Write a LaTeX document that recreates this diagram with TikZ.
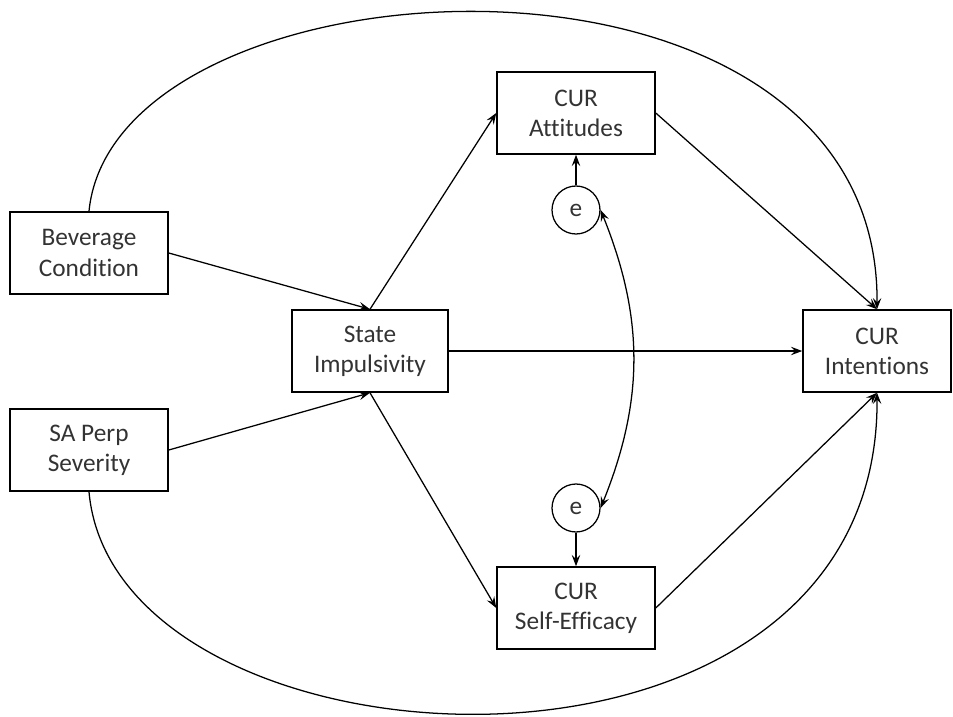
\documentclass[tikz,border=0pt]{standalone}
\usepackage{fontspec}
\setmainfont{Carlito}[Ligatures={NoCommon}]
\usepackage{tikz}
\usetikzlibrary{shapes.geometric, arrows.meta}
\tikzstyle{factor} = [rectangle, minimum width=3.95cm, minimum height=2.05cm, text centered, align=center, draw=black, line width=1.1pt, text=black!80, font=\fontsize{18}{21.5}\selectfont]
\tikzstyle{resid} = [circle, minimum size=1.2cm, inner sep=0pt, draw=black, line width=0.9pt, text=black!80, font=\fontsize{18}{21.5}\selectfont]
\tikzstyle{arrow} = [line width=0.9pt,->,>={Stealth[length=8pt,width=6pt,inset=3pt]}]

\begin{document}
\begin{tikzpicture}[node distance=1cm]
\useasboundingbox (0,0) rectangle (23.825,-17.9);

\node (bev) [factor] at (2.225,-6.325) {Beverage\\Condition};
\node (sa) [factor, below of=bev, yshift=-3.925cm] {SA Perp\\Severity};

\node (state) [factor, right of=bev, xshift=6.025cm, yshift=-2.45cm, minimum width=3.9cm] {State\\Impulsivity};
\draw [arrow] (bev.east) -- (state.north);
\draw [arrow] (sa.east) -- (state.south);

\node (att) [factor, right of=state, xshift=4.15cm, yshift=5.95cm] {CUR\\Attitudes};
\node (eff) [factor, right of=state, xshift=4.15cm, yshift=-6.425cm] {CUR\\Self-Efficacy};
\draw [arrow] (state.north) -- (att.west);
\draw [arrow] (state.south) -- (eff.west);

\node (e1) [resid, below of=att, yshift=-1.425cm] {e};
\node (e2) [resid, above of=eff, yshift=1.5cm] {e};
\draw [arrow] (e1) -- (att);
\draw [arrow] (e2) -- (eff);
\draw [arrow, <->] (e1.east) to[bend left=22] (e2.east);

\node (int) [factor, right of=state, xshift=11.675cm, minimum width=3.7cm] {CUR\\Intentions};
\draw [arrow] (state) -- (int);
\draw [arrow] (att.east) -- (int.north);
\draw [arrow] (eff.east) -- (int.south);

% direct paths round the outside
\draw [arrow] (bev.north) .. controls (2.875,1.25) and (22.0,2.25) .. (int.north);
\draw [arrow] (sa.south) .. controls (2.875,-19.575) and (22.0,-20.6) .. (int.south);

\end{tikzpicture}
\end{document}
